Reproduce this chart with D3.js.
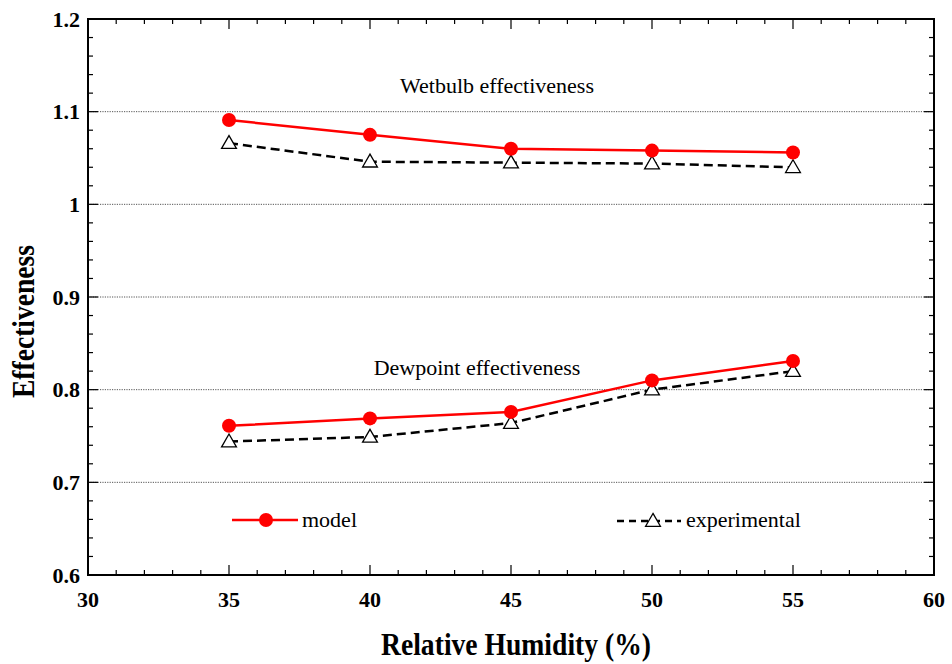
<!DOCTYPE html>
<html><head><meta charset="utf-8">
<script src="https://cdn.jsdelivr.net/npm/d3@7"></script>
<style>body{margin:0;background:#fff}svg{display:block}</style>
</head><body>
<svg id="c" width="952" height="664"></svg>
<script>
const humidity = [35, 40, 45, 50, 55];
const wetModel = [1.091, 1.075, 1.060, 1.058, 1.056];
const wetExp   = [1.066, 1.046, 1.045, 1.044, 1.040];
const dewModel = [0.761, 0.769, 0.776, 0.810, 0.831];
const dewExp   = [0.744, 0.749, 0.764, 0.800, 0.820];
const xTicks = [30, 35, 40, 45, 50, 55, 60];
const yTicks = [0.6, 0.7, 0.8, 0.9, 1.0, 1.1, 1.2];
const gridValues = [0.7, 0.8, 0.9, 1.0, 1.1];

const svg = d3.select("#c");
const L = 88, R = 934, T = 19, B = 575;
const x = d3.scaleLinear().domain([30, 60]).range([L, R]);
const y = d3.scaleLinear().domain([0.6, 1.2]).range([B, T]);
const serif = "'Liberation Serif','Times New Roman',serif";

// grid
svg.append("g").selectAll("line").data(gridValues).join("line")
  .attr("x1", L).attr("x2", R).attr("y1", d => y(d)).attr("y2", d => y(d))
  .attr("stroke", "#555").attr("stroke-width", 1).attr("stroke-dasharray", "1.2,1.2");

// axes with inward ticks
function minor(domain, step) { const a = []; for (let v = domain[0]; v <= domain[1] + 1e-9; v += step) a.push(+v.toFixed(4)); return a; }
const xMinor = minor([30, 60], 1);
const yMinor = minor([0.6, 1.2], 0.02);
const ax = svg.append("g").attr("stroke", "#000");
xMinor.forEach(v => {
  const major = xTicks.some(t => Math.abs(t - v) < 1e-6);
  const len = major ? 10 : 5;
  ax.append("line").attr("x1", x(v)).attr("x2", x(v)).attr("y1", B).attr("y2", B - len).attr("stroke-width", 1.2);
  ax.append("line").attr("x1", x(v)).attr("x2", x(v)).attr("y1", T).attr("y2", T + len).attr("stroke-width", 1.2);
});
yMinor.forEach(v => {
  const major = yTicks.some(t => Math.abs(t - v) < 1e-6);
  const len = major ? 10 : 5;
  ax.append("line").attr("y1", y(v)).attr("y2", y(v)).attr("x1", L).attr("x2", L + len).attr("stroke-width", 1.2);
  ax.append("line").attr("y1", y(v)).attr("y2", y(v)).attr("x1", R).attr("x2", R - len).attr("stroke-width", 1.2);
});
svg.append("rect").attr("x", L).attr("y", T).attr("width", R - L).attr("height", B - T)
  .attr("fill", "none").attr("stroke", "#000").attr("stroke-width", 2);

// tick labels
svg.append("g").selectAll("text").data(xTicks).join("text")
  .attr("x", d => x(d)).attr("y", 607).attr("text-anchor", "middle")
  .attr("font-family", serif).attr("font-weight", "bold").attr("font-size", 22).text(d => d);
svg.append("g").selectAll("text").data(yTicks).join("text")
  .attr("x", 80).attr("y", d => y(d) + 7.5).attr("text-anchor", "end")
  .attr("font-family", serif).attr("font-weight", "bold").attr("font-size", 22)
  .text(d => d === 1 ? "1" : d3.format(".1f")(d));

// axis titles
svg.append("text").attr("x", 381).attr("y", 655)
  .attr("font-family", serif).attr("font-weight", "bold").attr("font-size", 31)
  .attr("textLength", 270).attr("lengthAdjust", "spacingAndGlyphs").text("Relative Humidity (%)");
svg.append("text").attr("transform", "translate(34,398) rotate(-90)")
  .attr("font-family", serif).attr("font-weight", "bold").attr("font-size", 31)
  .attr("textLength", 153).attr("lengthAdjust", "spacingAndGlyphs").text("Effectiveness");

// annotations
svg.append("text").attr("x", 497).attr("y", 93).attr("text-anchor", "middle")
  .attr("font-family", serif).attr("font-size", 22).text("Wetbulb effectiveness");
svg.append("text").attr("x", 477).attr("y", 375).attr("text-anchor", "middle")
  .attr("font-family", serif).attr("font-size", 22).text("Dewpoint effectiveness");

const line = d3.line().x((d, i) => x(humidity[i])).y(d => y(d));
const tri = d3.symbol().type(d3.symbolTriangle).size(95);

function drawModel(vals) {
  svg.append("path").attr("d", line(vals)).attr("fill", "none").attr("stroke", "#ff0000").attr("stroke-width", 2.5);
  svg.append("g").selectAll("circle").data(vals).join("circle")
    .attr("cx", (d, i) => x(humidity[i])).attr("cy", d => y(d)).attr("r", 7).attr("fill", "#ff0000");
}
function drawExp(vals) {
  svg.append("path").attr("d", line(vals)).attr("fill", "none").attr("stroke", "#000").attr("stroke-width", 2.5).attr("stroke-dasharray", "9,5");
  svg.append("g").selectAll("path").data(vals).join("path")
    .attr("transform", (d, i) => `translate(${x(humidity[i])},${y(d) + 1})`).attr("d", tri)
    .attr("fill", "#fff").attr("stroke", "#000").attr("stroke-width", 1.3);
}
drawExp(wetExp); drawModel(wetModel);
drawExp(dewExp); drawModel(dewModel);

// legend
const lg = svg.append("g");
lg.append("line").attr("x1", 232).attr("x2", 298).attr("y1", 520).attr("y2", 520).attr("stroke", "#ff0000").attr("stroke-width", 2.5);
lg.append("circle").attr("cx", 266).attr("cy", 520).attr("r", 7).attr("fill", "#ff0000");
lg.append("text").attr("x", 302).attr("y", 527).attr("font-family", serif).attr("font-size", 22).text("model");
lg.append("line").attr("x1", 617).attr("x2", 681).attr("y1", 521).attr("y2", 521).attr("stroke", "#000").attr("stroke-width", 2.5).attr("stroke-dasharray", "7,5");
lg.append("path").attr("transform", "translate(653,522)").attr("d", tri).attr("fill", "#fff").attr("stroke", "#000").attr("stroke-width", 1.3);
lg.append("text").attr("x", 686).attr("y", 527).attr("font-family", serif).attr("font-size", 22).text("experimental");
</script>
</body></html>
